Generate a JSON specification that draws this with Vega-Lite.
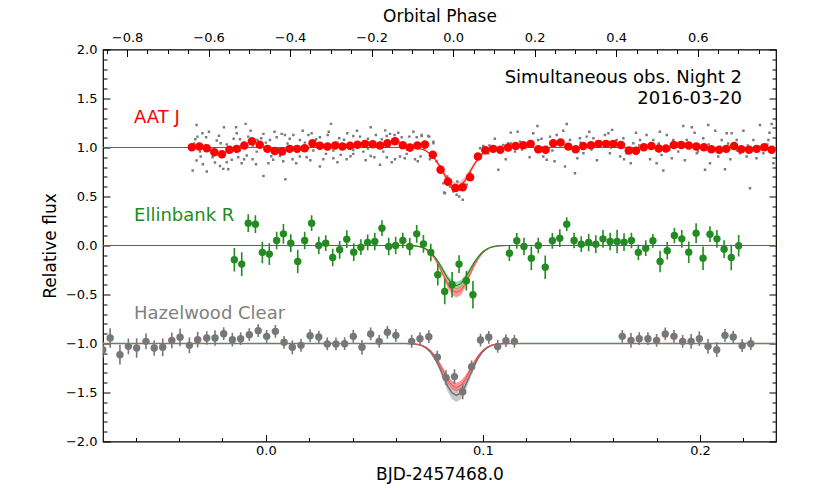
{
  "$schema": "https://vega.github.io/schema/vega-lite/v6.json",
  "width": 673,
  "height": 392,
  "autosize": "none",
  "padding": {"left": 103, "top": 49.5, "right": 41, "bottom": 49.5},
  "background": "white",
  "config": {
    "font": "DejaVu Sans",
    "view": {"stroke": "black", "strokeWidth": 1.2},
    "axis": {"domain": false, "grid": false, "tickColor": "black", "tickWidth": 1, "labelColor": "black", "titleColor": "black", "labelFontSize": 13, "titleFontSize": 17, "titleFontWeight": "normal", "labelFont": "DejaVu Sans", "titleFont": "DejaVu Sans", "labelFlush": false, "labelOverlap": false, "labelBound": false}
  },
  "datasets": {
    "bin": [
      {"t":-0.0341,"f":1.003},{"t":-0.0306,"f":1.010},{"t":-0.0272,"f":0.993},{"t":-0.0237,"f":0.952},{"t":-0.0202,"f":0.932},{"t":-0.0168,"f":0.976},{"t":-0.0134,"f":0.986},{"t":-0.0099,"f":1.020},{"t":-0.0064,"f":1.064},{"t":-0.0028,"f":1.027},
      {"t":0.0007,"f":0.986},{"t":0.0041,"f":0.965},{"t":0.0075,"f":0.959},{"t":0.0110,"f":0.986},{"t":0.0144,"f":0.986},{"t":0.0179,"f":0.993},{"t":0.0215,"f":1.044},{"t":0.0249,"f":1.017},{"t":0.0284,"f":1.010},{"t":0.0319,"f":1.020},
      {"t":0.0353,"f":1.010},{"t":0.0388,"f":1.017},{"t":0.0422,"f":1.027},{"t":0.0457,"f":1.037},{"t":0.0492,"f":1.034},{"t":0.0526,"f":1.020},{"t":0.0560,"f":1.044},{"t":0.0595,"f":1.064},{"t":0.0631,"f":1.024},{"t":0.0664,"f":1.000},
      {"t":0.0698,"f":1.020},{"t":0.0733,"f":1.030},{"t":0.0769,"f":0.925},{"t":0.0805,"f":0.772},{"t":0.0839,"f":0.652},{"t":0.0873,"f":0.588},{"t":0.0907,"f":0.595},{"t":0.0941,"f":0.697},{"t":0.0977,"f":0.907},{"t":0.1011,"f":0.972},
      {"t":0.1047,"f":0.986},{"t":0.1080,"f":0.978},{"t":0.1116,"f":0.999},{"t":0.1151,"f":1.016},{"t":0.1186,"f":1.023},{"t":0.1220,"f":1.037},{"t":0.1255,"f":0.983},{"t":0.1289,"f":0.976},{"t":0.1324,"f":1.044},{"t":0.1358,"f":1.050},
      {"t":0.1393,"f":1.009},{"t":0.1427,"f":0.983},{"t":0.1462,"f":1.016},{"t":0.1498,"f":1.023},{"t":0.1533,"f":1.037},{"t":0.1567,"f":1.037},{"t":0.1601,"f":1.037},{"t":0.1636,"f":1.026},{"t":0.1672,"f":0.969},{"t":0.1705,"f":0.966},
      {"t":0.1741,"f":1.003},{"t":0.1776,"f":1.016},{"t":0.1810,"f":0.989},{"t":0.1843,"f":0.989},{"t":0.1879,"f":1.026},{"t":0.1914,"f":1.026},{"t":0.1948,"f":1.020},{"t":0.1983,"f":1.010},{"t":0.2018,"f":1.003},{"t":0.2052,"f":0.983},
      {"t":0.2088,"f":0.976},{"t":0.2121,"f":0.986},{"t":0.2157,"f":1.016},{"t":0.2190,"f":0.983},{"t":0.2226,"f":0.976},{"t":0.2261,"f":0.986},{"t":0.2296,"f":1.003},{"t":0.2330,"f":0.976}
    ],
    "raw": [
      {"t":-0.0319,"f":1.230},{"t":-0.0292,"f":1.145},{"t":-0.0275,"f":1.105},{"t":-0.0315,"f":1.111},{"t":-0.0193,"f":1.207},{"t":-0.0137,"f":1.207},{"t":-0.0093,"f":1.241},{"t":-0.0134,"f":1.145},{"t":-0.0226,"f":1.071},{"t":-0.0208,"f":1.043},
      {"t":-0.0119,"f":1.084},{"t":-0.0081,"f":1.111},{"t":-0.0039,"f":1.077},{"t":-0.0011,"f":1.139},{"t":0.0019,"f":1.077},{"t":0.0050,"f":1.105},{"t":0.0073,"f":1.139},{"t":0.0088,"f":1.128},{"t":0.0127,"f":1.128},{"t":0.0157,"f":1.077},
      {"t":0.0196,"f":1.128},{"t":0.0211,"f":1.145},{"t":0.0249,"f":1.105},{"t":0.0300,"f":1.241},{"t":0.0285,"f":1.128},{"t":0.0338,"f":1.094},{"t":0.0375,"f":1.145},{"t":0.0403,"f":1.118},{"t":0.0434,"f":1.111},{"t":0.0483,"f":1.207},
      {"t":0.0507,"f":1.128},{"t":0.0534,"f":1.084},{"t":0.0557,"f":1.118},{"t":0.0572,"f":1.139},{"t":0.0593,"f":1.128},{"t":0.0626,"f":1.105},{"t":0.0661,"f":1.111},{"t":0.0695,"f":1.105},{"t":0.0718,"f":1.118},{"t":0.0748,"f":1.118},{"t":0.0772,"f":1.060},
      {"t":-0.0337,"f":0.765},{"t":-0.0319,"f":0.867},{"t":-0.0300,"f":0.908},{"t":-0.0272,"f":0.755},{"t":-0.0234,"f":0.846},{"t":-0.0211,"f":0.812},{"t":-0.0196,"f":0.782},{"t":-0.0173,"f":0.778},{"t":-0.0157,"f":0.874},{"t":-0.0127,"f":0.901},
      {"t":-0.0111,"f":0.840},{"t":-0.0088,"f":0.918},{"t":-0.0061,"f":0.880},{"t":-0.0011,"f":0.710},{"t":0.0012,"f":0.840},{"t":0.0034,"f":0.874},{"t":0.0065,"f":0.914},{"t":0.0090,"f":0.676},{"t":0.0123,"f":0.880},{"t":0.0157,"f":0.908},
      {"t":0.0188,"f":0.901},{"t":0.0249,"f":0.806},{"t":0.0277,"f":0.935},{"t":0.0311,"f":0.891},{"t":0.0345,"f":0.925},{"t":0.0372,"f":0.880},{"t":0.0403,"f":0.935},{"t":0.0449,"f":0.958},{"t":0.0483,"f":0.914},{"t":0.0526,"f":0.823},
      {"t":0.0557,"f":0.901},{"t":0.0595,"f":0.880},{"t":0.0618,"f":0.908},{"t":0.0649,"f":0.935},{"t":0.0687,"f":0.880},{"t":0.0713,"f":0.908},{"t":0.0756,"f":0.880},{"t":0.0787,"f":0.857},{"t":0.0821,"f":0.541},{"t":0.0836,"f":0.619},
      {"t":-0.0303,"f":0.958},{"t":-0.0257,"f":0.975},{"t":-0.0157,"f":0.958},{"t":-0.0042,"f":0.958},{"t":0.0096,"f":0.975},{"t":0.0219,"f":0.969},{"t":0.0311,"f":0.969},{"t":0.0403,"f":0.975},{"t":0.0541,"f":0.958},{"t":0.0664,"f":0.969},
      {"t":-0.033,"f":1.04},{"t":-0.028,"f":1.02},{"t":-0.024,"f":0.99},{"t":-0.018,"f":1.03},{"t":-0.012,"f":0.97},{"t":-0.006,"f":1.02},{"t":0.000,"f":1.05},{"t":0.006,"f":0.99},{"t":0.010,"f":1.04},{"t":0.014,"f":1.01},
      {"t":0.018,"f":1.05},{"t":0.024,"f":1.03},{"t":0.028,"f":0.99},{"t":0.033,"f":1.05},{"t":0.038,"f":1.00},{"t":0.042,"f":1.05},{"t":0.047,"f":0.99},{"t":0.052,"f":1.04},{"t":0.056,"f":1.02},{"t":0.061,"f":1.06},
      {"t":0.065,"f":0.98},{"t":0.069,"f":1.04},{"t":0.073,"f":0.99},
      {"t":-0.0325,"f":1.085},{"t":-0.0262,"f":1.160},{"t":-0.0216,"f":1.120},{"t":-0.0148,"f":1.090},{"t":-0.0070,"f":1.170},{"t":-0.0021,"f":1.095},{"t":0.0040,"f":1.160},{"t":0.0110,"f":1.090},{"t":0.0170,"f":1.170},{"t":0.0232,"f":1.085},
      {"t":0.0290,"f":1.160},{"t":0.0360,"f":1.080},{"t":0.0420,"f":1.170},{"t":0.0470,"f":1.090},{"t":0.0550,"f":1.175},{"t":0.0610,"f":1.150},{"t":0.0680,"f":1.160},
      {"t":-0.0290,"f":0.830},{"t":-0.0245,"f":0.900},{"t":-0.0180,"f":0.850},{"t":-0.0100,"f":0.880},{"t":-0.0045,"f":0.830},{"t":0.0025,"f":0.910},{"t":0.0080,"f":0.860},{"t":0.0140,"f":0.840},{"t":0.0205,"f":0.870},{"t":0.0265,"f":0.880},
      {"t":0.0330,"f":0.850},{"t":0.0390,"f":0.910},{"t":0.0460,"f":0.870},{"t":0.0500,"f":0.900},{"t":0.0580,"f":0.850},{"t":0.0640,"f":0.890},{"t":0.0700,"f":0.860},
      {"t":0.0718,"f":1.128},{"t":0.0753,"f":1.111},{"t":0.0772,"f":1.043},{"t":0.0802,"f":0.806},{"t":0.0836,"f":0.704},{"t":0.0818,"f":0.636},{"t":0.0825,"f":0.534},{"t":0.0848,"f":0.602},{"t":0.0864,"f":0.551},{"t":0.0879,"f":0.517},
      {"t":0.0891,"f":0.500},{"t":0.0907,"f":0.466},{"t":0.0898,"f":0.568},{"t":0.0882,"f":0.653},{"t":0.0925,"f":0.619},{"t":0.0941,"f":0.738},{"t":0.0971,"f":0.907},{"t":0.0987,"f":0.992},{"t":0.1002,"f":1.016},{"t":0.1025,"f":0.941},
      {"t":0.1040,"f":0.982},{"t":0.1071,"f":0.772},{"t":0.1094,"f":1.026},{"t":0.1117,"f":1.043},{"t":0.1128,"f":1.152},{"t":0.1148,"f":0.958},{"t":0.1171,"f":1.060},{"t":0.1202,"f":1.026},{"t":0.1232,"f":1.145},{"t":0.1251,"f":1.220},
      {"t":0.1255,"f":1.077},{"t":0.1278,"f":0.908},{"t":0.1294,"f":0.874},{"t":0.1309,"f":1.111},{"t":0.1340,"f":1.128},{"t":0.1386,"f":1.240},{"t":0.1378,"f":0.806},{"t":0.1401,"f":1.077},{"t":0.1424,"f":0.738},{"t":0.1447,"f":1.094},
      {"t":0.1463,"f":0.941},{"t":0.1478,"f":1.111},{"t":0.1509,"f":1.094},{"t":0.1540,"f":1.060},{"t":0.1562,"f":1.128},{"t":0.1578,"f":1.145},{"t":0.1585,"f":0.941},{"t":0.1616,"f":1.077},{"t":0.1632,"f":0.908},{"t":0.1647,"f":1.094},
      {"t":0.1662,"f":0.941},{"t":0.1681,"f":0.840},{"t":0.1693,"f":1.043},{"t":0.1724,"f":1.077},{"t":0.1754,"f":1.128},{"t":0.1785,"f":1.077},{"t":0.1800,"f":0.840},{"t":0.1823,"f":0.925},{"t":0.1831,"f":0.765},{"t":0.1847,"f":1.128},
      {"t":0.1877,"f":1.077},{"t":0.1900,"f":0.958},{"t":0.1923,"f":1.220},{"t":0.1939,"f":1.077},{"t":0.1962,"f":1.207},{"t":0.1985,"f":0.941},{"t":0.2015,"f":1.094},{"t":0.2023,"f":0.772},{"t":0.2038,"f":1.230},{"t":0.2046,"f":0.840},
      {"t":0.2061,"f":0.992},{"t":0.2084,"f":0.908},{"t":0.2100,"f":1.077},{"t":0.2115,"f":0.778},{"t":0.2123,"f":1.145},{"t":0.2146,"f":1.145},{"t":0.2169,"f":1.077},{"t":0.2184,"f":0.941},{"t":0.2215,"f":0.908},{"t":0.2230,"f":0.585},
      {"t":0.2246,"f":1.077},{"t":0.2276,"f":1.230},{"t":0.2292,"f":0.941},{"t":0.2315,"f":1.077},{"t":0.2330,"f":1.240},{"t":0.2338,"f":0.840},
      {"t":0.103,"f":1.02},{"t":0.108,"f":0.99},{"t":0.113,"f":1.04},{"t":0.118,"f":0.98},{"t":0.122,"f":1.05},{"t":0.127,"f":1.00},{"t":0.132,"f":0.97},{"t":0.136,"f":1.04},{"t":0.141,"f":0.99},{"t":0.145,"f":1.05},
      {"t":0.150,"f":0.98},{"t":0.154,"f":1.03},{"t":0.159,"f":1.00},{"t":0.163,"f":1.05},{"t":0.168,"f":0.97},{"t":0.172,"f":1.02},{"t":0.177,"f":0.99},{"t":0.181,"f":1.04},{"t":0.186,"f":0.98},{"t":0.190,"f":1.05},
      {"t":0.195,"f":1.00},{"t":0.199,"f":0.96},{"t":0.204,"f":1.03},{"t":0.208,"f":0.99},{"t":0.213,"f":1.04},{"t":0.217,"f":0.97},{"t":0.222,"f":1.02},{"t":0.226,"f":0.98},{"t":0.231,"f":1.03},
      {"t":0.1055,"f":1.090},{"t":0.1105,"f":0.880},{"t":0.1160,"f":1.160},{"t":0.1215,"f":0.900},{"t":0.1270,"f":1.090},{"t":0.1330,"f":0.860},{"t":0.1370,"f":1.170},{"t":0.1435,"f":0.890},{"t":0.1490,"f":1.160},{"t":0.1525,"f":0.870},
      {"t":0.1595,"f":1.180},{"t":0.1650,"f":0.880},{"t":0.1705,"f":1.150},{"t":0.1770,"f":0.880},{"t":0.1815,"f":1.160},{"t":0.1870,"f":0.890},{"t":0.1930,"f":0.870},{"t":0.1975,"f":1.150},{"t":0.2070,"f":1.170},{"t":0.2140,"f":0.880},
      {"t":0.2200,"f":1.170},{"t":0.2260,"f":0.890},{"t":0.2320,"f":1.150}
    ],
    "ell": [
      {"t":-0.0145,"f":-0.146,"e":0.12},{"t":-0.0111,"f":-0.190,"e":0.12},{"t":-0.0081,"f":0.228,"e":0.09},{"t":-0.0048,"f":0.218,"e":0.09},{"t":-0.0016,"f":-0.071,"e":0.11},{"t":0.0016,"f":-0.088,"e":0.11},{"t":0.0050,"f":0.051,"e":0.09},{"t":0.0081,"f":0.119,"e":0.10},{"t":0.0115,"f":0.024,"e":0.09},{"t":0.0147,"f":-0.163,"e":0.12},
      {"t":0.0179,"f":0.051,"e":0.09},{"t":0.0211,"f":0.228,"e":0.08},{"t":0.0244,"f":0.0,"e":0.09},{"t":0.0276,"f":0.024,"e":0.08},{"t":0.0308,"f":-0.122,"e":0.09},{"t":0.0340,"f":-0.044,"e":0.09},{"t":0.0373,"f":0.065,"e":0.09},{"t":0.0405,"f":-0.068,"e":0.09},{"t":0.0438,"f":-0.017,"e":0.08},{"t":0.0469,"f":0.031,"e":0.08},
      {"t":0.0502,"f":0.041,"e":0.09},{"t":0.0535,"f":0.177,"e":0.08},{"t":0.0566,"f":-0.010,"e":0.09},{"t":0.0598,"f":0.0,"e":0.09},{"t":0.0631,"f":0.051,"e":0.08},{"t":0.0663,"f":-0.010,"e":0.09},{"t":0.0695,"f":0.119,"e":0.09},{"t":0.0726,"f":0.017,"e":0.09},{"t":0.0760,"f":-0.071,"e":0.09},{"t":0.0792,"f":-0.299,"e":0.11},
      {"t":0.0824,"f":-0.469,"e":0.13},{"t":0.0858,"f":-0.401,"e":0.13},{"t":0.0890,"f":-0.190,"e":0.09},{"t":0.0924,"f":-0.360,"e":0.10},{"t":0.0954,"f":-0.503,"e":0.14},{"t":0.1122,"f":-0.078,"e":0.08},{"t":0.1156,"f":0.048,"e":0.08},{"t":0.1189,"f":-0.010,"e":0.09},{"t":0.1223,"f":-0.129,"e":0.12},{"t":0.1255,"f":0.0,"e":0.08},
      {"t":0.1287,"f":-0.221,"e":0.12},{"t":0.1320,"f":0.048,"e":0.08},{"t":0.1354,"f":0.075,"e":0.09},{"t":0.1386,"f":0.218,"e":0.07},{"t":0.1420,"f":0.051,"e":0.08},{"t":0.1453,"f":0.014,"e":0.08},{"t":0.1487,"f":0.031,"e":0.09},{"t":0.1520,"f":0.014,"e":0.09},{"t":0.1553,"f":0.068,"e":0.09},{"t":0.1586,"f":0.041,"e":0.09},
      {"t":0.1618,"f":0.041,"e":0.12},{"t":0.1650,"f":0.034,"e":0.09},{"t":0.1684,"f":0.051,"e":0.08},{"t":0.1716,"f":-0.071,"e":0.08},{"t":0.1750,"f":-0.027,"e":0.08},{"t":0.1783,"f":0.048,"e":0.07},{"t":0.1816,"f":-0.163,"e":0.11},{"t":0.1849,"f":-0.054,"e":0.09},{"t":0.1882,"f":0.102,"e":0.08},{"t":0.1916,"f":0.068,"e":0.09},
      {"t":0.1948,"f":-0.068,"e":0.11},{"t":0.1982,"f":0.126,"e":0.10},{"t":0.2014,"f":-0.129,"e":0.12},{"t":0.2046,"f":0.116,"e":0.08},{"t":0.2078,"f":0.068,"e":0.09},{"t":0.2111,"f":-0.037,"e":0.09},{"t":0.2144,"f":-0.122,"e":0.13},{"t":0.2178,"f":-0.003,"e":0.11}
    ],
    "haz": [
      {"t":-0.0751,"f":-1.063,"e":0.08},{"t":-0.0717,"f":-0.944,"e":0.10},{"t":-0.0672,"f":-1.114,"e":0.10},{"t":-0.0633,"f":-1.029,"e":0.08},{"t":-0.0595,"f":-1.046,"e":0.10},{"t":-0.0552,"f":-0.978,"e":0.08},{"t":-0.0514,"f":-1.046,"e":0.08},{"t":-0.0475,"f":-1.039,"e":0.09},{"t":-0.0433,"f":-0.968,"e":0.08},{"t":-0.0395,"f":-0.937,"e":0.09},
      {"t":-0.0352,"f":-1.019,"e":0.08},{"t":-0.0314,"f":-0.961,"e":0.08},{"t":-0.0272,"f":-0.944,"e":0.07},{"t":-0.0234,"f":-0.944,"e":0.08},{"t":-0.0194,"f":-0.900,"e":0.065},{"t":-0.0154,"f":-0.961,"e":0.07},{"t":-0.0116,"f":-0.951,"e":0.065},{"t":-0.0076,"f":-0.910,"e":0.065},{"t":-0.0035,"f":-0.869,"e":0.065},{"t":0.0004,"f":-0.927,"e":0.065},
      {"t":0.0044,"f":-0.876,"e":0.065},{"t":0.0084,"f":-0.988,"e":0.065},{"t":0.0122,"f":-1.039,"e":0.07},{"t":0.0162,"f":-1.019,"e":0.065},{"t":0.0204,"f":-0.920,"e":0.065},{"t":0.0244,"f":-0.934,"e":0.065},{"t":0.0283,"f":-1.005,"e":0.065},{"t":0.0323,"f":-1.005,"e":0.065},{"t":0.0363,"f":-1.002,"e":0.065},{"t":0.0403,"f":-0.927,"e":0.065},
      {"t":0.0443,"f":-1.039,"e":0.075},{"t":0.0483,"f":-0.903,"e":0.065},{"t":0.0522,"f":-0.978,"e":0.065},{"t":0.0560,"f":-0.886,"e":0.065},{"t":0.0599,"f":-0.917,"e":0.065},{"t":0.0672,"f":-0.978,"e":0.065},{"t":0.0710,"f":-0.951,"e":0.065},{"t":0.0751,"f":-0.930,"e":0.065},{"t":0.0790,"f":-1.140,"e":0.065},{"t":0.0830,"f":-1.348,"e":0.075},
      {"t":0.0869,"f":-1.338,"e":0.075},{"t":0.0907,"f":-1.493,"e":0.075},{"t":0.0948,"f":-1.238,"e":0.065},{"t":0.0989,"f":-0.965,"e":0.065},{"t":0.1027,"f":-0.937,"e":0.065},{"t":0.1068,"f":-1.030,"e":0.065},{"t":0.1106,"f":-0.971,"e":0.065},{"t":0.1145,"f":-0.978,"e":0.065},
      {"t":0.1642,"f":-0.927,"e":0.065},{"t":0.1682,"f":-0.968,"e":0.075},{"t":0.1720,"f":-0.951,"e":0.065},{"t":0.1760,"f":-0.951,"e":0.065},{"t":0.1800,"f":-0.968,"e":0.065},{"t":0.1840,"f":-0.903,"e":0.065},{"t":0.1880,"f":-0.927,"e":0.065},{"t":0.1920,"f":-0.978,"e":0.065},{"t":0.1959,"f":-0.978,"e":0.075},{"t":0.1997,"f":-0.951,"e":0.075},
      {"t":0.2037,"f":-1.029,"e":0.075},{"t":0.2077,"f":-1.063,"e":0.075},{"t":0.2115,"f":-0.917,"e":0.065},{"t":0.2153,"f":-0.934,"e":0.065},{"t":0.2194,"f":-1.022,"e":0.065},{"t":0.2234,"f":-1.002,"e":0.065}
    ],
    "model": [
      {"g":"aat","t":-0.075,"m":1,"lo":1,"hi":1},{"g":"aat","t":0.0638,"m":1,"lo":1,"hi":1},{"g":"aat","t":0.0678,"m":0.998,"lo":0.997,"hi":0.998},{"g":"aat","t":0.0698,"m":0.993,"lo":0.992,"hi":0.994},{"g":"aat","t":0.0718,"m":0.984,"lo":0.982,"hi":0.986},{"g":"aat","t":0.0738,"m":0.965,"lo":0.961,"hi":0.969},{"g":"aat","t":0.0758,"m":0.934,"lo":0.926,"hi":0.942},{"g":"aat","t":0.0778,"m":0.885,"lo":0.871,"hi":0.899},{"g":"aat","t":0.0798,"m":0.820,"lo":0.798,"hi":0.842},{"g":"aat","t":0.0818,"m":0.742,"lo":0.710,"hi":0.773},{"g":"aat","t":0.0838,"m":0.664,"lo":0.623,"hi":0.705},{"g":"aat","t":0.0858,"m":0.610,"lo":0.563,"hi":0.658},{"g":"aat","t":0.0878,"m":0.590,"lo":0.540,"hi":0.640},{"g":"aat","t":0.0898,"m":0.610,"lo":0.563,"hi":0.658},{"g":"aat","t":0.0918,"m":0.664,"lo":0.623,"hi":0.705},{"g":"aat","t":0.0938,"m":0.742,"lo":0.710,"hi":0.773},{"g":"aat","t":0.0958,"m":0.820,"lo":0.798,"hi":0.842},{"g":"aat","t":0.0978,"m":0.885,"lo":0.871,"hi":0.899},{"g":"aat","t":0.0998,"m":0.934,"lo":0.926,"hi":0.942},{"g":"aat","t":0.1018,"m":0.965,"lo":0.961,"hi":0.969},{"g":"aat","t":0.1038,"m":0.984,"lo":0.982,"hi":0.986},{"g":"aat","t":0.1058,"m":0.993,"lo":0.992,"hi":0.994},{"g":"aat","t":0.1078,"m":0.998,"lo":0.997,"hi":0.998},{"g":"aat","t":0.1118,"m":1,"lo":1,"hi":1},{"g":"aat","t":0.235,"m":1,"lo":1,"hi":1},
      {"g":"ellr","t":-0.075,"m":0,"lo":0,"hi":0},{"g":"ellr","t":0.0638,"m":0,"lo":0,"hi":0},{"g":"ellr","t":0.0678,"m":-0.003,"lo":-0.003,"hi":-0.003},{"g":"ellr","t":0.0698,"m":-0.008,"lo":-0.009,"hi":-0.007},{"g":"ellr","t":0.0718,"m":-0.019,"lo":-0.021,"hi":-0.018},{"g":"ellr","t":0.0738,"m":-0.041,"lo":-0.045,"hi":-0.037},{"g":"ellr","t":0.0758,"m":-0.077,"lo":-0.085,"hi":-0.070},{"g":"ellr","t":0.0778,"m":-0.134,"lo":-0.148,"hi":-0.123},{"g":"ellr","t":0.0798,"m":-0.211,"lo":-0.233,"hi":-0.194},{"g":"ellr","t":0.0818,"m":-0.302,"lo":-0.334,"hi":-0.277},{"g":"ellr","t":0.0838,"m":-0.394,"lo":-0.435,"hi":-0.361},{"g":"ellr","t":0.0858,"m":-0.456,"lo":-0.504,"hi":-0.418},{"g":"ellr","t":0.0878,"m":-0.480,"lo":-0.530,"hi":-0.440},{"g":"ellr","t":0.0898,"m":-0.456,"lo":-0.504,"hi":-0.418},{"g":"ellr","t":0.0918,"m":-0.394,"lo":-0.435,"hi":-0.361},{"g":"ellr","t":0.0938,"m":-0.302,"lo":-0.334,"hi":-0.277},{"g":"ellr","t":0.0958,"m":-0.211,"lo":-0.233,"hi":-0.194},{"g":"ellr","t":0.0978,"m":-0.134,"lo":-0.148,"hi":-0.123},{"g":"ellr","t":0.0998,"m":-0.077,"lo":-0.085,"hi":-0.070},{"g":"ellr","t":0.1018,"m":-0.041,"lo":-0.045,"hi":-0.037},{"g":"ellr","t":0.1038,"m":-0.019,"lo":-0.021,"hi":-0.018},{"g":"ellr","t":0.1058,"m":-0.008,"lo":-0.009,"hi":-0.007},{"g":"ellr","t":0.1078,"m":-0.003,"lo":-0.003,"hi":-0.003},{"g":"ellr","t":0.1118,"m":0,"lo":0,"hi":0},{"g":"ellr","t":0.235,"m":0,"lo":0,"hi":0},
      {"g":"ellg","t":-0.075,"m":0,"lo":0,"hi":0},{"g":"ellg","t":0.0638,"m":0,"lo":0,"hi":0},{"g":"ellg","t":0.0678,"m":-0.002,"lo":-0.003,"hi":-0.002},{"g":"ellg","t":0.0698,"m":-0.007,"lo":-0.008,"hi":-0.006},{"g":"ellg","t":0.0718,"m":-0.016,"lo":-0.018,"hi":-0.015},{"g":"ellg","t":0.0738,"m":-0.035,"lo":-0.038,"hi":-0.031},{"g":"ellg","t":0.0758,"m":-0.066,"lo":-0.072,"hi":-0.059},{"g":"ellg","t":0.0778,"m":-0.115,"lo":-0.126,"hi":-0.104},{"g":"ellg","t":0.0798,"m":-0.180,"lo":-0.198,"hi":-0.163},{"g":"ellg","t":0.0818,"m":-0.258,"lo":-0.284,"hi":-0.233},{"g":"ellg","t":0.0838,"m":-0.336,"lo":-0.369,"hi":-0.303},{"g":"ellg","t":0.0858,"m":-0.390,"lo":-0.428,"hi":-0.352},{"g":"ellg","t":0.0878,"m":-0.410,"lo":-0.450,"hi":-0.370},{"g":"ellg","t":0.0898,"m":-0.390,"lo":-0.428,"hi":-0.352},{"g":"ellg","t":0.0918,"m":-0.336,"lo":-0.369,"hi":-0.303},{"g":"ellg","t":0.0938,"m":-0.258,"lo":-0.284,"hi":-0.233},{"g":"ellg","t":0.0958,"m":-0.180,"lo":-0.198,"hi":-0.163},{"g":"ellg","t":0.0978,"m":-0.115,"lo":-0.126,"hi":-0.104},{"g":"ellg","t":0.0998,"m":-0.066,"lo":-0.072,"hi":-0.059},{"g":"ellg","t":0.1018,"m":-0.035,"lo":-0.038,"hi":-0.031},{"g":"ellg","t":0.1038,"m":-0.016,"lo":-0.018,"hi":-0.015},{"g":"ellg","t":0.1058,"m":-0.007,"lo":-0.008,"hi":-0.006},{"g":"ellg","t":0.1078,"m":-0.002,"lo":-0.003,"hi":-0.002},{"g":"ellg","t":0.1118,"m":0,"lo":0,"hi":0},{"g":"ellg","t":0.235,"m":0,"lo":0,"hi":0},
      {"g":"hazg","t":-0.075,"m":-1,"lo":-1,"hi":-1},{"g":"hazg","t":0.0638,"m":-1,"lo":-1,"hi":-1},{"g":"hazg","t":0.0678,"m":-1.003,"lo":-1.004,"hi":-1.003},{"g":"hazg","t":0.0698,"m":-1.009,"lo":-1.010,"hi":-1.008},{"g":"hazg","t":0.0718,"m":-1.021,"lo":-1.024,"hi":-1.019},{"g":"hazg","t":0.0738,"m":-1.045,"lo":-1.051,"hi":-1.040},{"g":"hazg","t":0.0758,"m":-1.085,"lo":-1.096,"hi":-1.075},{"g":"hazg","t":0.0778,"m":-1.148,"lo":-1.168,"hi":-1.132},{"g":"hazg","t":0.0798,"m":-1.233,"lo":-1.264,"hi":-1.207},{"g":"hazg","t":0.0818,"m":-1.334,"lo":-1.378,"hi":-1.296},{"g":"hazg","t":0.0838,"m":-1.435,"lo":-1.492,"hi":-1.385},{"g":"hazg","t":0.0858,"m":-1.504,"lo":-1.570,"hi":-1.447},{"g":"hazg","t":0.0878,"m":-1.530,"lo":-1.600,"hi":-1.470},{"g":"hazg","t":0.0898,"m":-1.504,"lo":-1.570,"hi":-1.447},{"g":"hazg","t":0.0918,"m":-1.435,"lo":-1.492,"hi":-1.385},{"g":"hazg","t":0.0938,"m":-1.334,"lo":-1.378,"hi":-1.296},{"g":"hazg","t":0.0958,"m":-1.233,"lo":-1.264,"hi":-1.207},{"g":"hazg","t":0.0978,"m":-1.148,"lo":-1.168,"hi":-1.132},{"g":"hazg","t":0.0998,"m":-1.085,"lo":-1.096,"hi":-1.075},{"g":"hazg","t":0.1018,"m":-1.045,"lo":-1.051,"hi":-1.040},{"g":"hazg","t":0.1038,"m":-1.021,"lo":-1.024,"hi":-1.019},{"g":"hazg","t":0.1058,"m":-1.009,"lo":-1.010,"hi":-1.008},{"g":"hazg","t":0.1078,"m":-1.003,"lo":-1.004,"hi":-1.003},{"g":"hazg","t":0.1118,"m":-1,"lo":-1,"hi":-1},{"g":"hazg","t":0.235,"m":-1,"lo":-1,"hi":-1},
      {"g":"hazr","t":-0.075,"m":-1,"lo":-1,"hi":-1},{"g":"hazr","t":0.0638,"m":-1,"lo":-1,"hi":-1},{"g":"hazr","t":0.0678,"m":-1.003,"lo":-1.003,"hi":-1.002},{"g":"hazr","t":0.0698,"m":-1.008,"lo":-1.008,"hi":-1.007},{"g":"hazr","t":0.0718,"m":-1.018,"lo":-1.020,"hi":-1.016},{"g":"hazr","t":0.0738,"m":-1.038,"lo":-1.042,"hi":-1.034},{"g":"hazr","t":0.0758,"m":-1.072,"lo":-1.078,"hi":-1.064},{"g":"hazr","t":0.0778,"m":-1.126,"lo":-1.137,"hi":-1.112},{"g":"hazr","t":0.0798,"m":-1.198,"lo":-1.216,"hi":-1.176},{"g":"hazr","t":0.0818,"m":-1.284,"lo":-1.309,"hi":-1.252},{"g":"hazr","t":0.0838,"m":-1.369,"lo":-1.402,"hi":-1.328},{"g":"hazr","t":0.0858,"m":-1.428,"lo":-1.466,"hi":-1.380},{"g":"hazr","t":0.0878,"m":-1.450,"lo":-1.490,"hi":-1.400},{"g":"hazr","t":0.0898,"m":-1.428,"lo":-1.466,"hi":-1.380},{"g":"hazr","t":0.0918,"m":-1.369,"lo":-1.402,"hi":-1.328},{"g":"hazr","t":0.0938,"m":-1.284,"lo":-1.309,"hi":-1.252},{"g":"hazr","t":0.0958,"m":-1.198,"lo":-1.216,"hi":-1.176},{"g":"hazr","t":0.0978,"m":-1.126,"lo":-1.137,"hi":-1.112},{"g":"hazr","t":0.0998,"m":-1.072,"lo":-1.078,"hi":-1.064},{"g":"hazr","t":0.1018,"m":-1.038,"lo":-1.042,"hi":-1.034},{"g":"hazr","t":0.1038,"m":-1.018,"lo":-1.020,"hi":-1.016},{"g":"hazr","t":0.1058,"m":-1.008,"lo":-1.008,"hi":-1.007},{"g":"hazr","t":0.1078,"m":-1.003,"lo":-1.003,"hi":-1.002},{"g":"hazr","t":0.1118,"m":-1,"lo":-1,"hi":-1},{"g":"hazr","t":0.235,"m":-1,"lo":-1,"hi":-1}
    ],
    "labels": [
      {"t":-0.0607,"f":1.302,"s":"AAT J","c":"#ff0000"},
      {"t":-0.0607,"f":0.303,"s":"Ellinbank R","c":"#228b22"},
      {"t":-0.0607,"f":-0.696,"s":"Hazelwood Clear","c":"#808080"}
    ],
    "notes": [
      {"t":0.2193,"f":1.709,"s":"Simultaneous obs. Night 2"},
      {"t":0.2193,"f":1.495,"s":"2016-03-20"}
    ]
  },
  "resolve": {"scale": {"x": "independent"}, "axis": {"x": "independent", "y": "independent"}},
  "layer": [
    {
      "data": {"name": "model"},
      "transform": [{"filter": "datum.g == 'hazg'"}],
      "mark": {"type": "area", "color": "#9a9a9a", "opacity": 0.55, "clip": true},
      "encoding": {
        "x": {"field": "t", "type": "quantitative", "scale": {"domain": [-0.075, 0.235], "nice": false, "zero": false},
          "axis": {"orient": "bottom", "title": "BJD-2457468.0", "values": [-0.06,-0.04,-0.02,0,0.02,0.04,0.06,0.08,0.1,0.12,0.14,0.16,0.18,0.2,0.22],
            "labelExpr": "abs(datum.value*10 - round(datum.value*10)) < 0.001 ? format(datum.value, '.1f') : ''",
            "tickSize": {"condition": {"test": "abs(datum.value*10 - round(datum.value*10)) < 0.001", "value": -7}, "value": -4},
            "labelPadding": 10, "titlePadding": 6}},
        "y": {"field": "lo", "type": "quantitative", "scale": {"domain": [-2, 2], "nice": false, "zero": false},
          "axis": {"orient": "left", "title": "Relative flux", "values": [-2,-1.9,-1.8,-1.7,-1.6,-1.5,-1.4,-1.3,-1.2,-1.1,-1,-0.9,-0.8,-0.7,-0.6,-0.5,-0.4,-0.3,-0.2,-0.1,0,0.1,0.2,0.3,0.4,0.5,0.6,0.7,0.8,0.9,1,1.1,1.2,1.3,1.4,1.5,1.6,1.7,1.8,1.9,2],
            "labelExpr": "abs(datum.value*2 - round(datum.value*2)) < 0.001 ? replace(format(datum.value, '.1f'), '-', '\u2212') : ''",
            "tickSize": {"condition": {"test": "abs(datum.value*2 - round(datum.value*2)) < 0.001", "value": -7}, "value": -4},
            "labelPadding": 13, "titlePadding": 6}},
        "y2": {"field": "hi"}
      }
    },
    {
      "data": {"name": "model"},
      "transform": [{"filter": "datum.g == 'hazg'"}],
      "mark": {"type": "line", "color": "#707070", "strokeWidth": 1.5, "clip": true},
      "encoding": {
        "x": {"field": "t", "type": "quantitative", "scale": {"domain": [-0.075, 0.235], "nice": false, "zero": false}, "axis": null},
        "y": {"field": "m", "type": "quantitative", "scale": {"domain": [-2, 2], "nice": false, "zero": false}, "axis": null}
      }
    },
    {
      "data": {"name": "model"},
      "transform": [{"filter": "datum.g == 'hazr'"}],
      "mark": {"type": "area", "color": "#ff3030", "opacity": 0.5, "clip": true},
      "encoding": {
        "x": {"field": "t", "type": "quantitative", "scale": {"domain": [-0.075, 0.235], "nice": false, "zero": false}, "axis": null},
        "y": {"field": "lo", "type": "quantitative", "scale": {"domain": [-2, 2], "nice": false, "zero": false}, "axis": null},
        "y2": {"field": "hi"}
      }
    },
    {
      "data": {"name": "model"},
      "transform": [{"filter": "datum.g == 'hazr'"}],
      "mark": {"type": "line", "color": "#ff4040", "strokeWidth": 1, "clip": true},
      "encoding": {
        "x": {"field": "t", "type": "quantitative", "scale": {"domain": [-0.075, 0.235], "nice": false, "zero": false}, "axis": null},
        "y": {"field": "m", "type": "quantitative", "scale": {"domain": [-2, 2], "nice": false, "zero": false}, "axis": null}
      }
    },
    {
      "data": {"name": "model"},
      "transform": [{"filter": "datum.g == 'ellr'"}],
      "mark": {"type": "area", "color": "#ff3030", "opacity": 0.5, "clip": true},
      "encoding": {
        "x": {"field": "t", "type": "quantitative", "scale": {"domain": [-0.075, 0.235], "nice": false, "zero": false}, "axis": null},
        "y": {"field": "lo", "type": "quantitative", "scale": {"domain": [-2, 2], "nice": false, "zero": false}, "axis": null},
        "y2": {"field": "hi"}
      }
    },
    {
      "data": {"name": "model"},
      "transform": [{"filter": "datum.g == 'ellr'"}],
      "mark": {"type": "line", "color": "#ff4040", "strokeWidth": 1, "clip": true},
      "encoding": {
        "x": {"field": "t", "type": "quantitative", "scale": {"domain": [-0.075, 0.235], "nice": false, "zero": false}, "axis": null},
        "y": {"field": "m", "type": "quantitative", "scale": {"domain": [-2, 2], "nice": false, "zero": false}, "axis": null}
      }
    },
    {
      "data": {"name": "model"},
      "transform": [{"filter": "datum.g == 'ellg'"}],
      "mark": {"type": "area", "color": "#4aa84a", "opacity": 0.5, "clip": true},
      "encoding": {
        "x": {"field": "t", "type": "quantitative", "scale": {"domain": [-0.075, 0.235], "nice": false, "zero": false}, "axis": null},
        "y": {"field": "lo", "type": "quantitative", "scale": {"domain": [-2, 2], "nice": false, "zero": false}, "axis": null},
        "y2": {"field": "hi"}
      }
    },
    {
      "data": {"name": "model"},
      "transform": [{"filter": "datum.g == 'ellg'"}],
      "mark": {"type": "line", "color": "#228b22", "strokeWidth": 1.2, "clip": true},
      "encoding": {
        "x": {"field": "t", "type": "quantitative", "scale": {"domain": [-0.075, 0.235], "nice": false, "zero": false}, "axis": null},
        "y": {"field": "m", "type": "quantitative", "scale": {"domain": [-2, 2], "nice": false, "zero": false}, "axis": null}
      }
    },
    {
      "data": {"name": "raw"},
      "mark": {"type": "square", "color": "#7a7a7a", "size": 6, "opacity": 1, "clip": true},
      "encoding": {
        "x": {"field": "t", "type": "quantitative", "scale": {"domain": [-0.075, 0.235], "nice": false, "zero": false}, "axis": null},
        "y": {"field": "f", "type": "quantitative", "scale": {"domain": [-2, 2], "nice": false, "zero": false}, "axis": null}
      }
    },
    {
      "data": {"name": "model"},
      "transform": [{"filter": "datum.g == 'aat'"}],
      "mark": {"type": "area", "color": "#ff3030", "opacity": 0.35, "clip": true},
      "encoding": {
        "x": {"field": "t", "type": "quantitative", "scale": {"domain": [-0.075, 0.235], "nice": false, "zero": false}, "axis": null},
        "y": {"field": "lo", "type": "quantitative", "scale": {"domain": [-2, 2], "nice": false, "zero": false}, "axis": null},
        "y2": {"field": "hi"}
      }
    },
    {
      "data": {"name": "model"},
      "transform": [{"filter": "datum.g == 'aat'"}],
      "mark": {"type": "line", "color": "#ff2020", "strokeWidth": 1.2, "clip": true},
      "encoding": {
        "x": {"field": "t", "type": "quantitative", "scale": {"domain": [-0.075, 0.235], "nice": false, "zero": false}, "axis": null},
        "y": {"field": "m", "type": "quantitative", "scale": {"domain": [-2, 2], "nice": false, "zero": false}, "axis": null}
      }
    },
    {
      "data": {"name": "bin"},
      "mark": {"type": "circle", "color": "#ff0000", "size": 72, "opacity": 1, "clip": true},
      "encoding": {
        "x": {"field": "t", "type": "quantitative", "scale": {"domain": [-0.075, 0.235], "nice": false, "zero": false}, "axis": null},
        "y": {"field": "f", "type": "quantitative", "scale": {"domain": [-2, 2], "nice": false, "zero": false}, "axis": null}
      }
    },
    {
      "data": {"name": "ell"},
      "mark": {"type": "errorbar", "color": "#228b22", "thickness": 1.6, "clip": true},
      "encoding": {
        "x": {"field": "t", "type": "quantitative", "scale": {"domain": [-0.075, 0.235], "nice": false, "zero": false}, "axis": null},
        "y": {"field": "f", "type": "quantitative", "scale": {"domain": [-2, 2], "nice": false, "zero": false}, "axis": null},
        "yError": {"field": "e"}
      }
    },
    {
      "data": {"name": "ell"},
      "mark": {"type": "circle", "color": "#228b22", "size": 55, "opacity": 1, "clip": true},
      "encoding": {
        "x": {"field": "t", "type": "quantitative", "scale": {"domain": [-0.075, 0.235], "nice": false, "zero": false}, "axis": null},
        "y": {"field": "f", "type": "quantitative", "scale": {"domain": [-2, 2], "nice": false, "zero": false}, "axis": null}
      }
    },
    {
      "data": {"name": "haz"},
      "mark": {"type": "errorbar", "color": "#777777", "thickness": 1.6, "clip": true},
      "encoding": {
        "x": {"field": "t", "type": "quantitative", "scale": {"domain": [-0.075, 0.235], "nice": false, "zero": false}, "axis": null},
        "y": {"field": "f", "type": "quantitative", "scale": {"domain": [-2, 2], "nice": false, "zero": false}, "axis": null},
        "yError": {"field": "e"}
      }
    },
    {
      "data": {"name": "haz"},
      "mark": {"type": "circle", "color": "#777777", "size": 55, "opacity": 1, "clip": true},
      "encoding": {
        "x": {"field": "t", "type": "quantitative", "scale": {"domain": [-0.075, 0.235], "nice": false, "zero": false}, "axis": null},
        "y": {"field": "f", "type": "quantitative", "scale": {"domain": [-2, 2], "nice": false, "zero": false}, "axis": null}
      }
    },
    {
      "data": {"name": "labels"},
      "mark": {"type": "text", "align": "left", "baseline": "middle", "fontSize": 18, "font": "DejaVu Sans"},
      "encoding": {
        "x": {"field": "t", "type": "quantitative", "scale": {"domain": [-0.075, 0.235], "nice": false, "zero": false}, "axis": null},
        "y": {"field": "f", "type": "quantitative", "scale": {"domain": [-2, 2], "nice": false, "zero": false}, "axis": null},
        "text": {"field": "s"},
        "color": {"field": "c", "type": "nominal", "scale": null}
      }
    },
    {
      "data": {"name": "notes"},
      "mark": {"type": "text", "align": "right", "baseline": "middle", "fontSize": 18, "font": "DejaVu Sans", "color": "black"},
      "encoding": {
        "x": {"field": "t", "type": "quantitative", "scale": {"domain": [-0.075, 0.235], "nice": false, "zero": false}, "axis": null},
        "y": {"field": "f", "type": "quantitative", "scale": {"domain": [-2, 2], "nice": false, "zero": false}, "axis": null},
        "text": {"field": "s"}
      }
    },
    {
      "data": {"values": [{"p": -0.859, "f": 0}, {"p": 0.792, "f": 0}]},
      "mark": {"type": "point", "opacity": 0},
      "encoding": {
        "x": {"field": "p", "type": "quantitative", "scale": {"domain": [-0.859, 0.792], "nice": false, "zero": false},
          "axis": {"orient": "top", "title": "Orbital Phase", "values": [-0.85,-0.8,-0.75,-0.7,-0.65,-0.6,-0.55,-0.5,-0.45,-0.4,-0.35,-0.3,-0.25,-0.2,-0.15,-0.1,-0.05,0,0.05,0.1,0.15,0.2,0.25,0.3,0.35,0.4,0.45,0.5,0.55,0.6,0.65,0.7,0.75],
            "labelExpr": "abs(datum.value*5 - round(datum.value*5)) < 0.001 ? replace(format(datum.value, '.1f'), '-', '\u2212') : ''",
            "tickSize": {"condition": {"test": "abs(datum.value*5 - round(datum.value*5)) < 0.001", "value": -7}, "value": -4},
            "labelPadding": 12, "titlePadding": 3}},
        "y": {"field": "f", "type": "quantitative", "scale": {"domain": [-2, 2], "nice": false, "zero": false},
          "axis": {"orient": "right", "title": null, "labels": false, "values": [-2,-1.9,-1.8,-1.7,-1.6,-1.5,-1.4,-1.3,-1.2,-1.1,-1,-0.9,-0.8,-0.7,-0.6,-0.5,-0.4,-0.3,-0.2,-0.1,0,0.1,0.2,0.3,0.4,0.5,0.6,0.7,0.8,0.9,1,1.1,1.2,1.3,1.4,1.5,1.6,1.7,1.8,1.9,2],
            "tickSize": {"condition": {"test": "abs(datum.value*2 - round(datum.value*2)) < 0.001", "value": -7}, "value": -4}}}
      }
    }
  ]
}
